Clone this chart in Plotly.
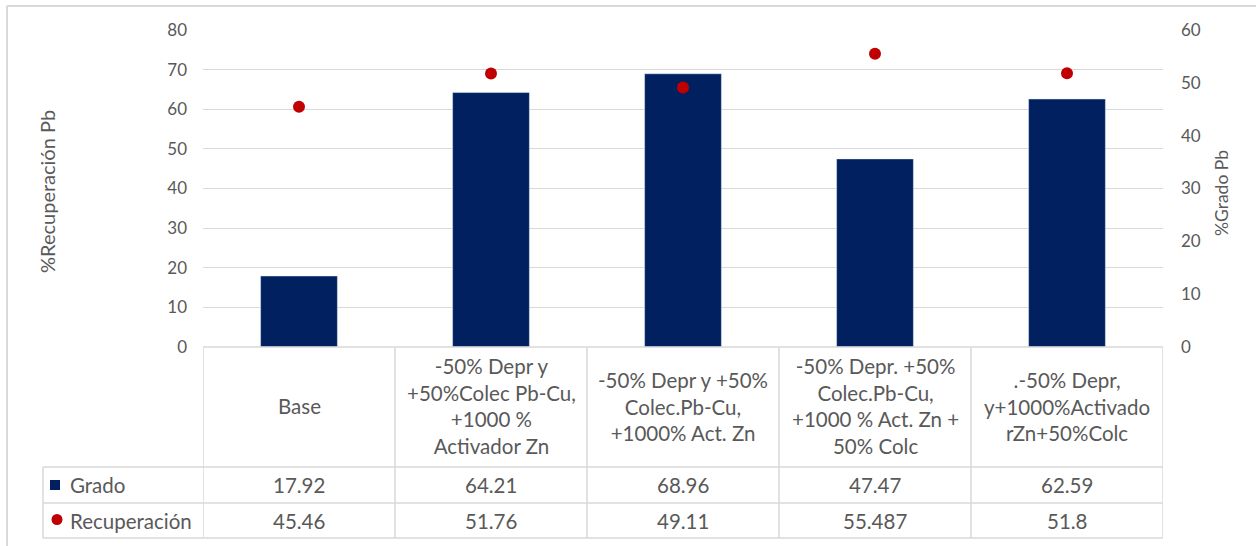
import plotly.graph_objects as go

# Flotation test conditions (table header row)
categories = [
    "Base",
    "-50% Depr y<br>+50%Colec Pb-Cu,<br>+1000 %<br>Activador Zn",
    "-50% Depr y +50%<br>Colec.Pb-Cu,<br>+1000% Act. Zn",
    "-50% Depr. +50%<br>Colec.Pb-Cu,<br>+1000 % Act. Zn +<br>50% Colc",
    ".-50% Depr,<br>y+1000%Activado<br>rZn+50%Colc",
]
grado = [17.92, 64.21, 68.96, 47.47, 62.59]
recuperacion = [45.46, 51.76, 49.11, 55.487, 51.8]
series_names = ["Grado", "Recuperación"]

left_ticks = [0, 10, 20, 30, 40, 50, 60, 70, 80]
right_ticks = [0, 10, 20, 30, 40, 50, 60]

W, H = 1256, 546
L, R, T, B = 203, 1163, 30, 347  # plot area in pixels

NAVY = "#002060"
RED = "#C00000"
GRID = "#d9d9d9"
TXT = "#595959"
FONT = "Lato"


def px_x(px):
    return (px - L) / (R - L)


def px_y(py):
    return (B - py) / (B - T)


idx = list(range(len(categories)))

fig = go.Figure()
fig.add_trace(go.Bar(
    x=idx, y=grado, name=series_names[0], marker_color=NAVY,
    yaxis="y", width=0.4,
))
fig.add_trace(go.Scatter(
    x=idx, y=recuperacion, name=series_names[1], mode="markers",
    marker=dict(color=RED, size=12), yaxis="y2",
))

shapes = []
annotations = []

# Chart outer border (top and left edges)
shapes.append(dict(type="line", xref="paper", yref="paper",
                   x0=px_x(7), x1=px_x(W + 5), y0=px_y(6), y1=px_y(6),
                   line=dict(color=GRID, width=2)))
shapes.append(dict(type="line", xref="paper", yref="paper",
                   x0=px_x(7), x1=px_x(7), y0=px_y(6), y1=px_y(H + 5),
                   line=dict(color=GRID, width=2)))

# Data table grid
row_tops = [347, 467, 503, 538]
for k, ry in enumerate(row_tops):
    x0 = px_x(L) if k == 0 else px_x(43)
    shapes.append(dict(type="line", xref="paper", yref="paper",
                       x0=x0, x1=1, y0=px_y(ry), y1=px_y(ry),
                       line=dict(color=GRID, width=1.5)))
shapes.append(dict(type="line", xref="paper", yref="paper",
                   x0=px_x(43), x1=px_x(43), y0=px_y(467), y1=px_y(538),
                   line=dict(color=GRID, width=1.5)))
for i in range(len(categories) + 1):
    shapes.append(dict(type="line", xref="x", yref="paper",
                       x0=i - 0.5, x1=i - 0.5, y0=px_y(347), y1=px_y(538),
                       line=dict(color=GRID, width=1.5)))

# Table contents: header labels and values
for i, cat in enumerate(categories):
    annotations.append(dict(xref="x", yref="paper", x=i, y=px_y(406),
                            text=cat, showarrow=False,
                            font=dict(family=FONT, size=20.5, color=TXT),
                            align="center", xanchor="center", yanchor="middle"))
    annotations.append(dict(xref="x", yref="paper", x=i, y=px_y(485),
                            text=str(grado[i]), showarrow=False,
                            font=dict(family=FONT, size=20.5, color=TXT),
                            xanchor="center", yanchor="middle"))
    annotations.append(dict(xref="x", yref="paper", x=i, y=px_y(520.5),
                            text=str(recuperacion[i]), showarrow=False,
                            font=dict(family=FONT, size=20.5, color=TXT),
                            xanchor="center", yanchor="middle"))

# Legend keys inside the table
shapes.append(dict(type="rect", xref="paper", yref="paper",
                   x0=px_x(50), x1=px_x(60), y0=px_y(480), y1=px_y(490),
                   fillcolor=NAVY, line=dict(width=0)))
shapes.append(dict(type="circle", xref="paper", yref="paper",
                   x0=px_x(51.5), x1=px_x(62.5), y0=px_y(514), y1=px_y(525),
                   fillcolor=RED, line=dict(width=0)))
for name, cy in zip(series_names, [485, 520.5]):
    annotations.append(dict(xref="paper", yref="paper", x=px_x(68), y=px_y(cy),
                            text=name, showarrow=False,
                            font=dict(family=FONT, size=20.5, color=TXT),
                            xanchor="left", yanchor="middle"))

# Axis titles
annotations.append(dict(xref="paper", yref="paper", x=px_x(47), y=px_y(192),
                        text="%Recuperación Pb", textangle=-90, showarrow=False,
                        font=dict(family=FONT, size=20, color=TXT),
                        xanchor="center", yanchor="middle"))
annotations.append(dict(xref="paper", yref="paper", x=px_x(1221), y=px_y(193),
                        text="%Grado Pb", textangle=-90, showarrow=False,
                        font=dict(family=FONT, size=17.5, color=TXT),
                        xanchor="center", yanchor="middle"))

fig.update_layout(
    width=W, height=H, autosize=False,
    margin=dict(l=L, r=W - R, t=T, b=H - B, pad=0),
    paper_bgcolor="white", plot_bgcolor="white",
    showlegend=False,
    font=dict(family=FONT, color=TXT),
    xaxis=dict(range=[-0.5, len(categories) - 0.5], showticklabels=False,
               showgrid=False, zeroline=False, showline=False, fixedrange=True),
    yaxis=dict(range=[0, 80], tickvals=left_ticks, showgrid=True,
               gridcolor=GRID, gridwidth=1, zeroline=False, showline=False,
               ticks="", ticklabelstandoff=15,
               tickfont=dict(family=FONT, size=17, color=TXT)),
    yaxis2=dict(range=[0, 60], tickvals=right_ticks, overlaying="y",
                side="right", showgrid=False, zeroline=False, showline=False,
                ticks="", ticklabelstandoff=17,
                tickfont=dict(family=FONT, size=17, color=TXT)),
    shapes=shapes,
    annotations=annotations,
)

fig.write_html("out.html")
